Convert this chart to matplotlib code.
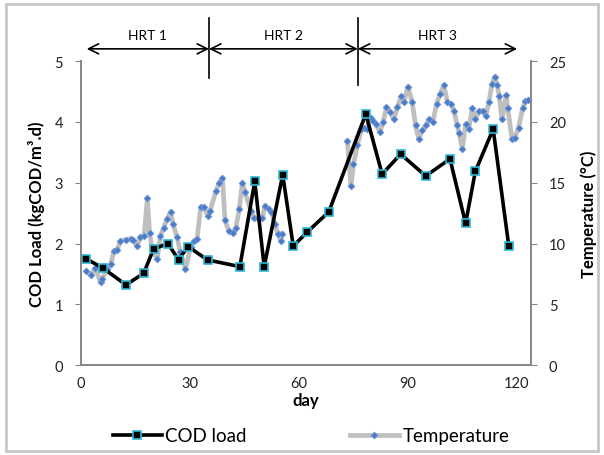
import numpy as np
import matplotlib
matplotlib.use('Agg')
import matplotlib.pyplot as plt
from matplotlib.patches import Rectangle

plt.rcParams['font.family'] = ['Lato', 'DejaVu Sans']

# COD load (kgCOD/m3.d) by day
cod_day = [1.4, 6.2, 12.4, 17.3, 20.0, 24.0, 26.9, 29.5, 34.9, 43.8, 47.9, 50.5,
           55.6, 58.5, 62.4, 68.3, 78.5, 83.0, 88.1, 95.0, 101.7, 106.0, 108.7,
           113.6, 117.9]
cod_load = [1.75, 1.59, 1.32, 1.51, 1.91, 2.00, 1.73, 1.95, 1.73, 1.62, 3.02, 1.62,
            3.13, 1.96, 2.19, 2.52, 4.13, 3.14, 3.47, 3.11, 3.39, 2.33, 3.19,
            3.88, 1.96]

# temperature (degC) by day, nan = no reading (gap in line)
temp_day = [1.5, 2.7, 4.0, 5.4, 5.9, 7.2, 8.2, 9.1, 10.0, 10.9, 12.3, 13.7, 14.3,
            15.5, 16.4, 17.4, 18.3, 18.9, 19.6, 21.0, 21.9, 22.8, 23.7, 24.7,
            25.4, 26.5, 27.4, 28.8, 30.2, 31.1, 32.0, 33.0, 33.9, 34.9, 35.6,
            37.2, 38.1, 39.0, 39.7, 40.8, 41.8, 42.7, 43.6, 44.5, 45.2, 46.8,
            47.7, 48.8, 50.0, 50.7, 51.8, 52.5, 53.4, 54.3, 55.1, 55.5, 64.0,
            73.4, 74.4, 75.1, 76.2, 77.3, 78.0, 78.7, 79.8, 80.6, 81.2, 82.4,
            83.3, 84.2, 85.3, 86.2, 87.2, 88.3, 89.0, 90.1, 91.3, 92.2, 93.1,
            94.1, 95.0, 95.9, 97.0, 98.0, 99.0, 100.0, 101.0, 101.9, 102.8,
            103.7, 104.2, 105.1, 106.0, 106.9, 107.8, 108.7, 109.6, 110.7,
            111.6, 112.4, 113.3, 114.0, 114.7, 115.3, 116.0, 117.2, 117.6,
            118.8, 119.5, 120.6, 121.7, 122.5, 123.3]
temp_c = [7.75, 7.4, 8.0, 6.8, 7.1, 7.9, 8.3, 9.4, 9.5, 10.2, 10.3, 10.4, 10.3,
          9.8, 10.5, 10.6, 13.7, 10.9, 9.5, 8.7, 10.6, 11.3, 12.0, 12.6,
          11.6, 10.5, 9.3, 7.9, 9.7, 10.2, 10.4, 13.0, 13.0, 12.3, 12.7,
          14.3, 15.0, 15.4, 11.9, 11.0, 10.9, 11.3, 12.8, 15.0, 14.2, 12.7,
          12.1, 12.1, 12.1, 13.1, 12.8, 12.6, 11.6, 10.8, 10.2, 10.8, np.nan,
          18.4, 14.7, 16.5, 18.1, 19.4, 19.5, 19.4, 20.3, 20.1, 19.8, 19.2,
          20.0, 21.2, 20.8, 20.2, 21.2, 22.1, 21.6, 22.9, 21.6, 19.7, 18.6,
          19.3, 19.7, 20.2, 20.0, 21.5, 22.3, 23.0, 21.6, 21.5, 20.9,
          19.7, 19.1, 17.8, 19.8, 19.4, 21.1, 20.2, 20.9, 20.9,
          20.5, 21.6, 23.1, 23.7, 23.0, 22.1, 20.2, 22.2, 21.1,
          18.6, 18.7, 19.5, 21.1, 21.7, 21.8]

# HRT phase boundaries (day) and labels
hrt_edges = [1.6, 35.3, 76.3, 120.2]
hrt_labels = ['HRT 1', 'HRT 2', 'HRT 3']

fig = plt.figure(figsize=(6.04, 4.56), dpi=100)
ax = fig.add_axes([0.134, 0.197, 0.745, 0.667])
ax2 = ax.twinx()

# temperature behind, COD load on top
ax.set_zorder(ax2.get_zorder() + 1)
ax.patch.set_visible(False)

ax2.plot(temp_day, temp_c, color='#BFBFBF', lw=3.4, marker='D', ms=3.4,
         mfc='#4A7BC8', mec='#6C95D6', mew=0.6, label='Temperature')
ax.plot(cod_day, cod_load, color='black', lw=2.6, marker='s', ms=5.5,
        mfc='black', mec='#2EB8D6', mew=1.2, label='COD load')

gray = '#868686'
ax.set_xlim(0, 124)
ax.set_ylim(0, 5)
ax2.set_ylim(0, 25)
ax.set_xticks([0, 30, 60, 90, 120])
ax.set_yticks(range(6))
ax2.set_yticks(range(0, 26, 5))
for a in (ax, ax2):
    for s in a.spines.values():
        s.set_color(gray)
        s.set_linewidth(1.2)
    a.spines['top'].set_visible(False)
    a.tick_params(colors=gray, labelcolor='#222222', labelsize=10.5,
                  direction='out', length=4)
ax.tick_params(axis='x', length=0, pad=8)
ax.tick_params(axis='y', pad=9)
ax2.tick_params(axis='y', pad=9)

ax.set_xlabel('day', fontsize=12, fontweight='bold', labelpad=1)
ax.set_ylabel('COD Load (kgCOD/m³.d)', fontsize=12, fontweight='bold', labelpad=7)
ax2.set_ylabel('Temperature (°C)', fontsize=12, fontweight='bold', labelpad=10)

# HRT arrows above the plot
for i, lab in enumerate(hrt_labels):
    x0, x1 = hrt_edges[i], hrt_edges[i + 1]
    ax.annotate('', xy=(x0, 5.2), xytext=(x1, 5.2), annotation_clip=False,
                arrowprops=dict(arrowstyle='<->', color='black', lw=1.2,
                                mutation_scale=18, shrinkA=0, shrinkB=0))
    ax.text((x0 + x1) / 2, 5.42, lab, ha='center', va='center', fontsize=10,
            clip_on=False)
for xb, yb in [(hrt_edges[1], 4.72), (hrt_edges[2], 4.6)]:
    ax.plot([xb, xb], [yb, 5.7], color='black', lw=1.2, clip_on=False)

h1, l1 = ax.get_legend_handles_labels()
h2, l2 = ax2.get_legend_handles_labels()
fig.legend(h1 + h2, l1 + l2, loc='center', bbox_to_anchor=(0.515, 0.042), ncol=2,
           frameon=False, fontsize=13.5, columnspacing=5.5, handlelength=2.6,
           handletextpad=0.2)

fig.patches.append(Rectangle((0.01, 0.008), 0.98, 0.982, transform=fig.transFigure,
                             fill=False, edgecolor='#C8C8C8', lw=2))

fig.savefig('out.png', dpi=100)
